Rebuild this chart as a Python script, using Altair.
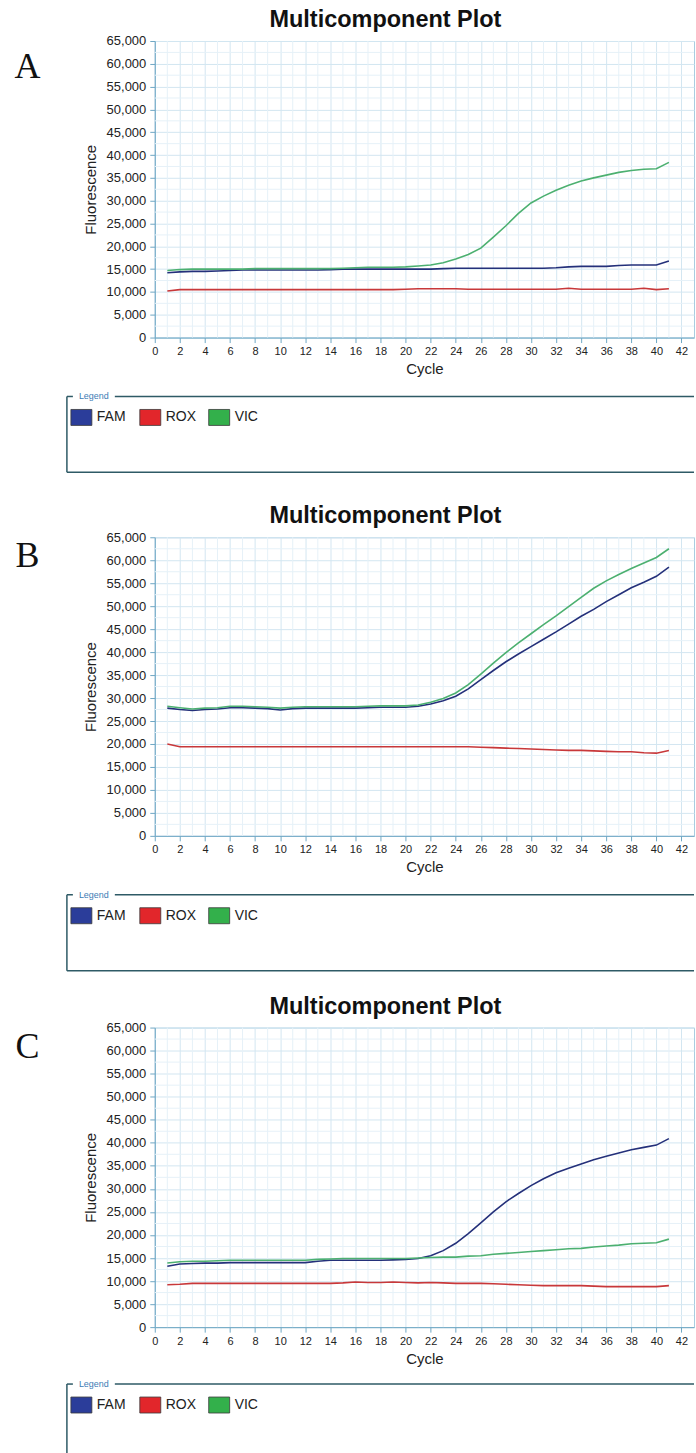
import altair as alt
import pandas as pd

cycles = list(range(1, 42))

a_fam = [14200, 14400, 14500, 14500, 14600, 14700, 14800, 14800, 14800, 14800,
         14800, 14800, 14800, 14900, 15000, 15000, 15000, 15000, 15000, 15000,
         15000, 15000, 15100, 15200, 15200, 15200, 15200, 15200, 15200, 15200,
         15200, 15300, 15500, 15600, 15600, 15600, 15800, 15900, 15900, 15900, 16800]
a_rox = [10200, 10500, 10500, 10500, 10500, 10500, 10500, 10500, 10500, 10500,
         10500, 10500, 10500, 10500, 10500, 10500, 10500, 10500, 10500, 10600,
         10700, 10700, 10700, 10700, 10600, 10600, 10600, 10600, 10600, 10600,
         10600, 10600, 10800, 10600, 10600, 10600, 10600, 10600, 10800, 10500, 10700]
a_vic = [14700, 14900, 15000, 15000, 15000, 15000, 15000, 15100, 15100, 15100,
         15100, 15100, 15100, 15100, 15200, 15300, 15400, 15400, 15400, 15500,
         15700, 15900, 16400, 17200, 18200, 19600, 22000, 24500, 27200, 29500,
         31000, 32300, 33400, 34300, 35000, 35600, 36200, 36600, 36900, 37000, 38400]

b_fam = [27800, 27500, 27300, 27500, 27600, 27900, 27900, 27800, 27700, 27400,
         27700, 27800, 27800, 27800, 27800, 27800, 27900, 28000, 28000, 28000,
         28200, 28700, 29400, 30400, 32000, 34000, 36000, 37900, 39600, 41200,
         42800, 44400, 46100, 47800, 49300, 51000, 52500, 54000, 55200, 56500, 58500]
b_rox = [20000, 19400, 19400, 19400, 19400, 19400, 19400, 19400, 19400, 19400,
         19400, 19400, 19400, 19400, 19400, 19400, 19400, 19400, 19400, 19400,
         19400, 19400, 19400, 19400, 19400, 19300, 19200, 19100, 19000, 18900,
         18800, 18700, 18600, 18600, 18500, 18400, 18300, 18300, 18100, 18000, 18600]
b_vic = [28200, 27900, 27600, 27800, 27900, 28200, 28200, 28100, 28000, 27800,
         28000, 28100, 28100, 28100, 28100, 28100, 28200, 28300, 28300, 28300,
         28500, 29100, 29900, 31100, 32900, 35200, 37600, 39900, 42000, 44000,
         46000, 47900, 49900, 51900, 53900, 55500, 56900, 58200, 59400, 60600, 62500]

c_fam = [13200, 13700, 13800, 13900, 13900, 14000, 14000, 14000, 14000, 14000,
         14000, 14000, 14300, 14500, 14500, 14500, 14500, 14500, 14600, 14700,
         14900, 15500, 16600, 18200, 20300, 22600, 25000, 27200, 29000, 30700,
         32200, 33500, 34500, 35400, 36300, 37100, 37800, 38500, 39000, 39500, 40900]
c_rox = [9200, 9300, 9500, 9500, 9500, 9500, 9500, 9500, 9500, 9500,
         9500, 9500, 9500, 9500, 9600, 9800, 9700, 9700, 9800, 9700,
         9600, 9700, 9600, 9500, 9500, 9500, 9400, 9300, 9200, 9100,
         9000, 9000, 9000, 9000, 8900, 8800, 8800, 8800, 8800, 8800, 9000]
c_vic = [13900, 14200, 14300, 14300, 14400, 14500, 14500, 14500, 14500, 14500,
         14500, 14500, 14700, 14800, 14900, 14900, 14900, 14900, 14900, 14900,
         15000, 15100, 15200, 15200, 15400, 15500, 15800, 16000, 16200, 16400,
         16600, 16800, 17000, 17100, 17400, 17600, 17800, 18100, 18200, 18300, 19100]

x_major = list(range(0, 43, 2))
x_minor = list(range(1, 43, 2))
y_major = list(range(0, 65001, 5000))
y_minor = list(range(2500, 65000, 5000))

series_names = ["FAM", "ROX", "VIC"]
line_colors = ["#24307a", "#c8383a", "#4cb070"]
swatch_colors = ["#2b3d9a", "#e2262b", "#33b04b"]
title_text = "Multicomponent Plot"

FONT = "Liberation Sans"
W = 540
BOX = "#2e5a66"
MINOR = "#e6f1f8"
one = pd.DataFrame({"k": [0]})


def panel(letter, fam, rox, vic, height, letter_base, box_top, box_bottom, bottom_end, spacer=None):
    df = pd.DataFrame({
        "cycle": cycles * 3,
        "value": fam + rox + vic,
        "series": ["FAM"] * 41 + ["ROX"] * 41 + ["VIC"] * 41,
    })
    xs = alt.Scale(domain=[0, 43], nice=False, zero=False)
    ys = alt.Scale(domain=[0, 65000], nice=False)

    xaxis = alt.Axis(orient="bottom", values=x_major, title="Cycle", labelFontSize=11,
                     tickSize=5, labelPadding=3, titleFontSize=15, titlePadding=5,
                     gridColor="#d3e6f1", labelFlush=False)
    yaxis = alt.Axis(orient="left", values=y_major, format=",d", title="Fluorescence",
                     labelFontSize=13, tickSize=5, labelPadding=4, titleFontSize=15,
                     titlePadding=8, gridColor="#d3e6f1")

    minor_x = alt.Chart(pd.DataFrame({"cycle": x_minor})).mark_rule(
        color=MINOR, strokeWidth=1).encode(x=alt.X("cycle:Q", scale=xs, axis=xaxis))
    minor_y = alt.Chart(pd.DataFrame({"value": y_minor})).mark_rule(
        color=MINOR, strokeWidth=1).encode(y=alt.Y("value:Q", scale=ys, axis=yaxis))

    lines = alt.Chart(df).mark_line(strokeWidth=1.6).encode(
        x=alt.X("cycle:Q", scale=xs, axis=xaxis),
        y=alt.Y("value:Q", scale=ys, axis=yaxis),
        color=alt.Color("series:N", scale=alt.Scale(domain=series_names, range=line_colors),
                        legend=None),
    )

    decor = []
    decor.append(alt.Chart(one).mark_text(text=title_text, font=FONT, fontSize=23.5,
                                          fontWeight="bold", align="center",
                                          baseline="alphabetic", color="#111")
                 .encode(x=alt.value(231), y=alt.value(-14)))
    decor.append(alt.Chart(one).mark_text(text=letter, font="Liberation Serif", fontSize=36,
                                          align="center", baseline="alphabetic", color="#111")
                 .encode(x=alt.value(-127.5), y=alt.value(letter_base)))
    # legend box
    decor.append(alt.Chart(one).mark_rule(color=BOX, strokeWidth=1.5)
                 .encode(x=alt.value(-88), x2=alt.value(-82), y=alt.value(box_top)))
    decor.append(alt.Chart(one).mark_rule(color=BOX, strokeWidth=1.5)
                 .encode(x=alt.value(-40), x2=alt.value(W), y=alt.value(box_top)))
    decor.append(alt.Chart(one).mark_rule(color=BOX, strokeWidth=1.5)
                 .encode(x=alt.value(-88), y=alt.value(box_top), y2=alt.value(bottom_end)))
    if box_bottom is not None:
        decor.append(alt.Chart(one).mark_rule(color=BOX, strokeWidth=1.5)
                     .encode(x=alt.value(-88), x2=alt.value(W), y=alt.value(box_bottom)))
    decor.append(alt.Chart(one).mark_text(text="Legend", font=FONT, fontSize=9, color="#3d7db5",
                                          align="left", baseline="middle")
                 .encode(x=alt.value(-76), y=alt.value(box_top)))
    for i, (name, col) in enumerate(zip(series_names, swatch_colors)):
        x0 = -84 + i * 69
        decor.append(alt.Chart(one).mark_rect(fill=col, stroke="#3a3a3a", strokeWidth=0.8)
                     .encode(x=alt.value(x0), x2=alt.value(x0 + 21),
                             y=alt.value(box_top + 13), y2=alt.value(box_top + 29)))
        decor.append(alt.Chart(one).mark_text(text=name, font=FONT, fontSize=14, color="#222",
                                              align="left", baseline="middle")
                     .encode(x=alt.value(x0 + 26), y=alt.value(box_top + 21)))
    if spacer is not None:
        decor.append(alt.Chart(one).mark_rule(strokeOpacity=0)
                     .encode(x=alt.value(0), x2=alt.value(1), y=alt.value(spacer)))

    return alt.layer(minor_x, minor_y, lines, *decor).properties(width=W, height=height)


pA = panel("A", a_fam, a_rox, a_vic, 297, 37, 356, 432, 432, spacer=441)
pB = panel("B", b_fam, b_rox, b_vic, 299, 30, 358, 434, 434)
pC = panel("C", c_fam, c_rox, c_vic, 300, 30, 357, None, 427)

chart = alt.vconcat(pA, pB, pC, spacing=21).properties(
    padding={"left": 14, "top": 6, "right": 0, "bottom": 0}
).configure_view(stroke="#a8cde0", strokeWidth=1).configure_axis(
    labelFont=FONT, titleFont=FONT, labelColor="#222", titleColor="#222",
    titleFontWeight="normal", domainColor="#6ea7c4", tickColor="#6ea7c4",
)

chart.save("out.html", embed_options={"renderer": "svg", "actions": False})
